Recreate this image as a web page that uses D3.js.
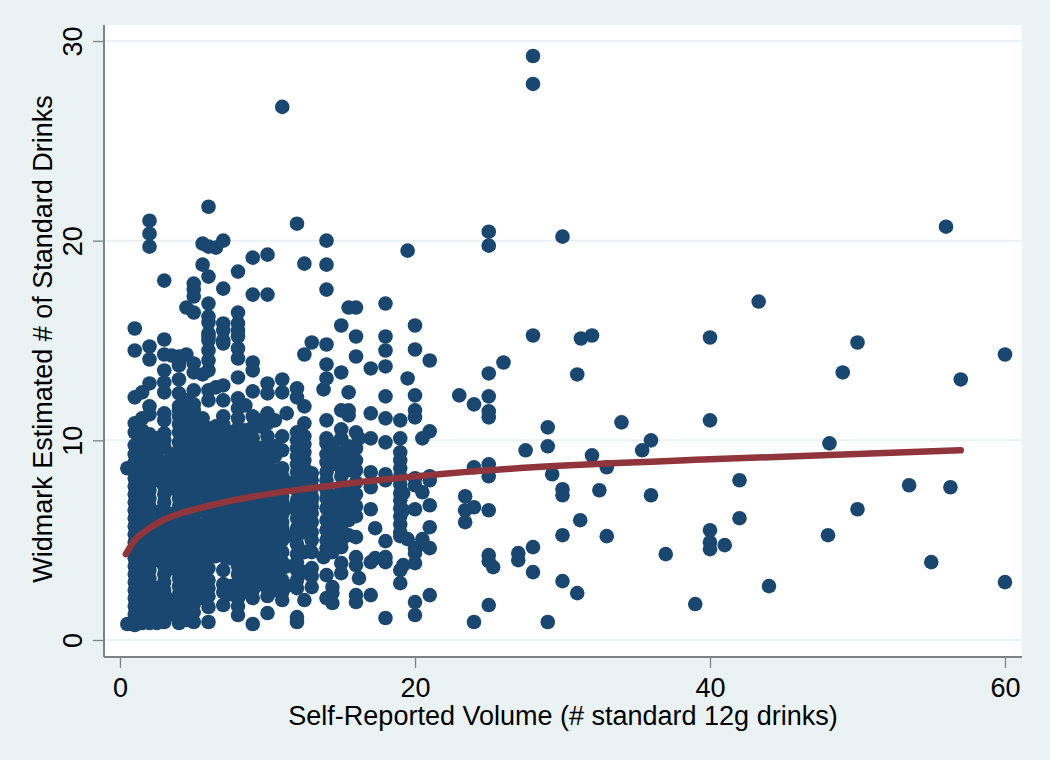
<!DOCTYPE html>
<html><head><meta charset="utf-8">
<script src="https://cdn.jsdelivr.net/npm/d3@7/dist/d3.min.js"></script>
<style>html,body{margin:0;padding:0;background:#eaf2f3}svg{display:block}text{font-family:"Liberation Sans",Arial,sans-serif;fill:#000}</style>
</head><body><div id="chart"></div>
<script>
const xTicks = [0, 20, 40, 60];
const yTicks = [0, 10, 20, 30];
const xTitle = "Self-Reported Volume (# standard 12g drinks)";
const yTitle = "Widmark Estimated # of Standard Drinks";

// reported volume for each stacked column of points
const volumeColumns = [0.5, 1, 1.5, 2, 2.5, 3, 3.5, 4, 4.5, 5, 5.6, 6, 6.5, 7, 7.5, 8, 8.5, 9, 9.5, 10, 10.5, 11, 11.3, 12, 12.5, 13, 13.8, 14, 14.4, 15, 15.5, 16, 16.2, 17, 17.3, 18, 19, 19.2, 19.5, 20, 20.5, 21];
// Widmark estimates in each of those columns
const estimateColumns = [
 [8.6, 0.8],
 [15.6,14.5,12.15,10.85,10.4,9.75,9.3,8.9,8.5,8.1,7.7,7.3,6.9,6.5,6.1,5.7,5.3,4.9,4.5,4.1,3.7,3.3,2.9,2.5,2.1,1.7,1.3,0.9,0.75],
 [12.4,11.1,10.5,9.9,9.4,9,8.6,8.2,7.8,7.4,7,6.6,6.2,5.8,5.4,5,4.6,4.2,3.8,3.4,3,2.6,2.2,1.8,1.4,1,0.85],
 [21,20.35,19.7,14.7,14.05,12.85,11.7,11.3,10.3,9.9,9.5,9.1,8.7,8.3,7.9,7.5,7.1,6.7,6.3,5.9,5.5,5.1,4.7,4.3,3.9,3.5,3.1,2.7,2.3,1.9,1.5,1.1,0.85],
 [10.1,9.6,9.2,8.8,8.4,8,6.4,6,5.6,5.2,4.8,4.4,4,2.6,2.2,1.8,1.4,1,0.85],
 [18,15.05,14.3,13.5,12.9,12.4,11.35,11,10.35,10,9.65,8.9,8.5,8.1,7.7,7.3,6.9,6.5,6.1,5.7,5.3,4.9,4.5,4.1,3.7,3.3,2.9,2.5,2.1,1.7,1.3,0.9],
 [14.25,9.3,8.9,8.4,8,7.6,6.3,6,5.6,5.2,4.8,4.4,4,3.6,2,1.6,1.3],
 [14.2,13.9,13.75,13.05,12.35,11.7,11.5,11.2,10.8,10.4,9.9,9.5,9.1,8.7,8.3,7.9,7.5,7.1,6.7,6.3,5.9,5.5,5.1,4.7,4.3,3.9,3.5,3.1,2.7,2.3,1.9,1.5,1.1,0.85],
 [16.65,14.3,12,11.6,11.4,11,10.5,10.2,9.8,9.4,9,8.6,8.2,7.8,7.4,7,6.6,6.2,5.8,5.4,5,4.6,4.2,3.8,3.4,3,2.6,2.2,1.8,1.4,1],
 [17.85,17.55,17.2,16.4,13.85,13.4,12.5,11.8,11.5,11.2,10.6,10.2,9.8,9.4,9,8.6,8.2,7.8,7.4,7,6.6,6.2,5.8,5.4,5,4.6,4.2,3.8,3.4,3,2.6,2.2,1.8,1.4,0.9],
 [19.85,18.8,13.3,11.1,10.5,10.1,9.7,9.3,8.9,8.6,8.2,7.7,7.3,6.9,6.5,5.8,5.4,5,4.6,4.1,3.7,3.3,2.9,2.5,2.1],
 [21.7,19.7,18.2,16.85,16.2,15.9,15.35,15.2,15,14.5,14,13.5,12.5,12,10.6,10.2,9.8,9.4,9,8.6,8.2,7.8,7.4,7,6.6,6.2,5.8,5.4,5,4.6,4.2,3.6,3,2.6,2.2,1.65,0.9],
 [19.65,12.65,10.7,10.3,9.7,9.3,8.9,8.5,8.1,7.7,7.3,6.9,6.5,6.2,5.7,5.2,4.7,4.2],
 [20,17.6,15.85,15.5,15,14.85,12.75,12,11.2,10.8,10.6,10.2,9.8,9.4,9,8.6,8.2,7.8,7.4,7,6.6,6.2,5.8,5.4,5,4.6,4.2,3.5,2.8,2.4,1.75],
 [10.4,9.9,9.5,9.1,8.6,8.2,7.8,7.5,7.1,6.7,6.3,5.8,5.2,4.7,4.1,2.7,2.3],
 [18.45,16.4,15.85,15.5,15.2,14.6,14.1,13.15,12.1,11.6,11.1,10.6,10.1,9.7,9.3,8.9,8.5,8.1,7.7,7.3,6.9,6.5,6.1,5.7,5.3,4.9,4.5,4.1,3.7,3.3,2.9,2.5,2.1,1.7,1.25],
 [11.75,10.5,9.8,9.2,8.8,8.3,7.8,7.4,6.9,6.4,6,5.5,5,4.6,4.2,3.8,3.4,2.8,2.4],
 [19.15,17.3,13.9,13.5,12.45,11.2,10.65,10.1,9.7,9.3,8.9,8.5,8.1,7.7,7.3,6.9,6.5,6.1,5.7,5.3,4.9,4.5,4.1,3.7,3.3,2.9,2.5,2.1,0.8],
 [11,10.7,9.6,9.2,8.7,8.3,8,7.6,7.1,6.6,6.2,5.7,5.3,4.9,4.4,4,3.6,3.2,2.8],
 [19.3,17.3,12.85,12.35,11.35,10.85,10.2,9.8,9.4,9,8.6,8.2,7.8,7.4,7,6.6,6.2,5.8,5.4,5,4.6,4.2,3.8,3.4,3,2.6,2.2,1.35],
 [11,9.7,9.2,8.5,8,7.5,6.9,6.4,5.9,5.3,4.8,4.4,3.9,3.4,2.9,2.5],
 [13.05,12.4,10.2,9.5,8.6,8.2,7.6,7.2,6.9,6.3,5.9,5.6,5,4.4,3.9,3.6,3,2.4,2.0],
 [11.35,7.9,6.6,5.2,3.7,2.7],
 [20.85,12.6,12.15,10.4,10,9.6,9.2,8.8,8.4,8,7.5,7,6.6,6.1,5.6,5.2,4.8,4.3,3.9,3.5,3,2.6,1.15,0.9],
 [18.85,14.3,11.7,10.85,10.2,9.8,9.4,9,8.6,8,7.6,7.2,6.8,6.4,6,5.4,4.4,3.4,2],
 [14.9,8.35,8,7.6,7.2,7,6.7,6.35,5.9,5.4,5,4.4,3.6,3.2,2.65],
 [12.55,4.15],
 [20,18.8,17.55,14.8,13.8,13.1,11,10.1,9.85,9.3,8.9,8.4,8,7.5,7.1,6.6,6,5.5,5,4.6,3.25,2.1],
 [9.8,9.2,8.8,7.2,6.8,6.2,5.8,5.3,4.8,4.4,2.65,2.35,1.85],
 [15.75,13.4,11.5,10.55,10.1,9.4,9.1,8.6,8.2,7.6,7.1,6.6,6.1,5.5,5,4.65,3.85,3.35],
 [16.65,12.4,11.5,11.25,9.7,9.3,8.9,8.5,7.6,7.3,7,6.4,6,5.25],
 [16.65,15.2,14.2,10.4,9.6,9,8.5,7.9,7.3,6.7,6.2,5.15,4.15,3.75,2.25,1.9],
 [10.1,3.1],
 [13.6,11.35,10.1,8.4,7.65,6.55,3.9,2.25],
 [5.6,4.1],
 [16.85,15.2,14.5,13.7,12.2,11.1,9.9,8.3,8,4.95,4.15,3.9,1.1],
 [11,10.1,9.4,9,8.6,8.2,7.8,7.35,7,6.6,6.2,5.8,5.4,5.2,3.5,2.85],
 [7.35,6.5,3.75],
 [19.5,13.1,5.05],
 [15.75,14.55,12.25,11.5,11.15,8.1,7.75,6.55,4.6,4.35,3.85,1.9,1.25],
 [10.1,7.4,5.05,4.8],
 [14,10.45,8.2,8,6.75,5.65,4.6,2.25]
];

// the sparse points beyond the dense block
const outlierVolume = [28,28,11,56,25,25,30,43.3,60,40,50,49,57,28,31.25,32,26,25,31,25,23,24,25,25,29,34,40,36,35.4,48.1,27.5,29,32,25,24,25,33,29.3,30,30,42,32.5,36,23.4,53.5,56.3,50,23.4,24,23.4,25,31.2,42,40,40,40,41,48,30,33,28,27,27,25,25,25.3,37,55,28,30,31,44,60,25,24,29,39];
const outlierEstimate = [29.25,27.85,26.7,20.7,20.45,19.75,20.2,16.95,14.3,15.15,14.9,13.4,13.05,15.25,15.1,15.25,13.9,13.35,13.3,12.2,12.25,11.8,11.45,11.15,10.65,10.9,11,10,9.5,9.85,9.5,9.7,9.25,8.8,8.65,8.2,8.65,8.3,7.55,7.25,8,7.5,7.25,7.2,7.75,7.65,6.55,6.5,6.65,5.9,6.5,6,6.1,5.5,4.9,4.55,4.75,5.25,5.25,5.2,4.65,4.35,4,4.25,3.95,3.65,4.3,3.9,3.4,2.95,2.35,2.7,2.9,1.75,0.9,0.9,1.8];

// fitted curve
const fitVolume = [0.4,0.9,2,3.2,5.4,7.7,10.85,15,22.4,28,40,49.5,57];
const fitEstimate = [4.3,4.9,5.6,6.1,6.6,7,7.4,7.8,8.35,8.65,9.05,9.3,9.5];

const W = 1050, H = 760;
const plot = {left:104, right:1022, top:25, bottom:657};
const x = d3.scaleLinear().domain([0,60]).range([120,1005]);
const y = d3.scaleLinear().domain([0,30]).range([640,41]);

const svg = d3.select("#chart").append("svg").attr("width",W).attr("height",H);
svg.append("rect").attr("width",W).attr("height",H).attr("fill","#eaf2f3");
svg.append("rect").attr("x",plot.left).attr("y",plot.top).attr("width",plot.right-plot.left).attr("height",plot.bottom-plot.top).attr("fill","#fff");

svg.append("g").selectAll("line").data(yTicks).join("line")
  .attr("x1",plot.left).attr("x2",plot.right).attr("y1",d=>y(d)).attr("y2",d=>y(d))
  .attr("stroke","#eaf2f3").attr("stroke-width",2);

const points = [];
volumeColumns.forEach((v,i)=>estimateColumns[i].forEach(e=>points.push([v,e])));
outlierVolume.forEach((v,i)=>points.push([v,outlierEstimate[i]]));

svg.append("g").selectAll("circle").data(points).join("circle")
  .attr("cx",d=>x(d[0])).attr("cy",d=>y(d[1])).attr("r",7.3).attr("fill","#1a476f");

const line = d3.line().x(d=>x(d[0])).y(d=>y(d[1])).curve(d3.curveMonotoneX);
svg.append("path").datum(fitVolume.map((v,i)=>[v,fitEstimate[i]])).attr("d",line)
  .attr("fill","none").attr("stroke","#90353b").attr("stroke-width",6.5).attr("stroke-linecap","round");

const frame = "#7d8487";
const ax = svg.append("g").attr("transform",`translate(0,${plot.bottom})`)
  .call(d3.axisBottom(x).tickValues(xTicks).tickSize(11).tickPadding(10).tickSizeOuter(0));
ax.select(".domain").remove();
ax.selectAll("line").attr("stroke",frame).attr("stroke-width",1.3);
ax.selectAll("text").attr("font-size",27).style("font-family",'"Liberation Sans",Arial,sans-serif');

const ay = svg.append("g").attr("transform",`translate(${plot.left},0)`)
  .call(d3.axisLeft(y).tickValues(yTicks).tickSize(11).tickPadding(0).tickSizeOuter(0));
ay.select(".domain").remove();
ay.selectAll("line").attr("stroke",frame).attr("stroke-width",1.3);
ay.selectAll("text").attr("font-size",27).style("font-family",'"Liberation Sans",Arial,sans-serif')
  .attr("x",null).attr("y",null).attr("dy",null).attr("text-anchor","middle")
  .attr("transform",d=>`translate(-22,0) rotate(-90)`);

svg.append("line").attr("x1",plot.left).attr("x2",plot.left).attr("y1",plot.top).attr("y2",plot.bottom).attr("stroke",frame).attr("stroke-width",2);
svg.append("line").attr("x1",plot.left).attr("x2",plot.right).attr("y1",plot.bottom).attr("y2",plot.bottom).attr("stroke",frame).attr("stroke-width",2);

svg.append("text").attr("x",563).attr("y",725).attr("text-anchor","middle").attr("font-size",27).text(xTitle);
svg.append("text").attr("transform","translate(52,339) rotate(-90)").attr("text-anchor","middle").attr("font-size",27).text(yTitle);
</script></body></html>
